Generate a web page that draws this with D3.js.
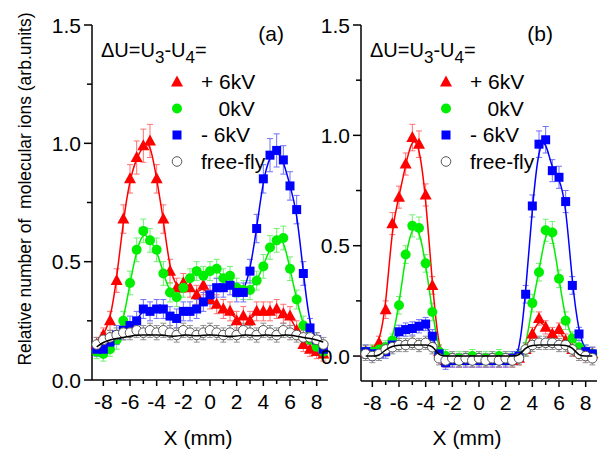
<!DOCTYPE html>
<html>
<head>
<meta charset="utf-8">
<script src="https://cdn.jsdelivr.net/npm/d3@7"></script>
<style>
  body { margin: 0; background: #fff; }
  svg { font-family: "Liberation Sans", Arial, sans-serif; }
</style>
</head>
<body>
<div id="main_div"></div>
<script>
const xPos = [-8.5,-8,-7.5,-7,-6.5,-6,-5.5,-5,-4.5,-4,-3.5,-3,-2.5,-2,-1.5,-1,-0.5,0,0.5,1,1.5,2,2.5,3,3.5,4,4.5,5,5.5,6,6.5,7,7.5,8,8.5];

// panel (a)
const redA   = [0.15,0.19,0.25,0.42,0.68,0.85,0.94,0.99,1.01,0.85,0.68,0.46,0.39,0.41,0.39,0.36,0.40,0.34,0.32,0.30,0.29,0.25,0.27,0.25,0.29,0.29,0.29,0.30,0.28,0.27,0.21,0.15,0.13,0.12,0.11];
const greenA = [0.12,0.11,0.13,0.17,0.25,0.41,0.55,0.63,0.59,0.55,0.45,0.37,0.35,0.39,0.43,0.46,0.44,0.46,0.47,0.43,0.44,0.39,0.38,0.38,0.42,0.48,0.56,0.59,0.60,0.47,0.34,0.23,0.17,0.14,0.12];
const blueA  = [0.13,0.13,0.16,0.19,0.21,0.23,0.25,0.30,0.29,0.30,0.30,0.27,0.26,0.29,0.29,0.30,0.33,0.36,0.39,0.39,0.40,0.37,0.37,0.46,0.64,0.85,0.95,0.97,0.93,0.82,0.72,0.45,0.22,0.17,0.13];
const freeA  = [0.15,0.17,0.18,0.19,0.20,0.20,0.21,0.20,0.21,0.20,0.21,0.20,0.19,0.21,0.20,0.19,0.20,0.21,0.20,0.19,0.20,0.19,0.21,0.20,0.19,0.21,0.20,0.19,0.21,0.20,0.19,0.18,0.18,0.17,0.15];
const fitA   = [0.14,0.16,0.17,0.175,0.18,0.185,0.19,0.19,0.19,0.19,0.19,0.185,0.185,0.19,0.19,0.185,0.19,0.19,0.19,0.185,0.185,0.185,0.19,0.19,0.185,0.19,0.19,0.185,0.19,0.19,0.185,0.18,0.175,0.17,0.16];
const errRedA   = [0.03,0.03,0.04,0.05,0.06,0.06,0.07,0.07,0.07,0.06,0.06,0.05,0.04,0.04,0.04,0.04,0.04,0.04,0.04,0.04,0.04,0.04,0.04,0.04,0.04,0.04,0.04,0.04,0.04,0.04,0.04,0.03,0.03,0.03,0.03];
const errGreenA = [0.03,0.03,0.03,0.04,0.04,0.05,0.05,0.05,0.05,0.05,0.05,0.04,0.04,0.04,0.04,0.04,0.04,0.04,0.04,0.04,0.04,0.04,0.04,0.04,0.04,0.05,0.05,0.05,0.05,0.05,0.04,0.04,0.03,0.03,0.03];
const errBlueA  = [0.03,0.03,0.03,0.04,0.04,0.04,0.04,0.04,0.04,0.04,0.04,0.04,0.04,0.04,0.04,0.04,0.04,0.04,0.04,0.04,0.04,0.04,0.04,0.05,0.06,0.06,0.07,0.07,0.06,0.06,0.06,0.05,0.04,0.03,0.03];
const errFreeA  = [0.03,0.03,0.03,0.03,0.03,0.03,0.03,0.03,0.03,0.03,0.03,0.03,0.03,0.03,0.03,0.03,0.03,0.03,0.03,0.03,0.03,0.03,0.03,0.03,0.03,0.03,0.03,0.03,0.03,0.03,0.03,0.03,0.03,0.03,0.03];

// panel (b)
const redB   = [0.02,0.02,0.06,0.21,0.60,0.72,0.87,0.99,0.96,0.73,0.32,0.02,-0.02,-0.02,-0.02,-0.02,-0.02,-0.02,-0.02,-0.02,-0.02,-0.02,-0.02,-0.01,0.03,0.10,0.17,0.13,0.10,0.12,0.07,0.03,0.02,0.01,0.01];
const greenB = [0.02,0.02,0.03,0.04,0.07,0.23,0.46,0.59,0.58,0.42,0.20,0.02,0.00,-0.01,-0.01,-0.01,0.00,-0.01,-0.01,-0.01,0.00,-0.01,-0.01,0.00,0.03,0.24,0.38,0.57,0.56,0.35,0.16,0.08,0.04,0.02,0.01];
const blueB  = [0.02,0.01,0.01,0.02,0.05,0.11,0.12,0.125,0.135,0.145,0.09,0.01,-0.03,-0.02,-0.02,-0.02,-0.02,-0.02,-0.02,-0.02,-0.02,-0.02,-0.01,0.00,0.28,0.68,0.96,0.98,0.84,0.81,0.70,0.32,0.10,0.02,0.01];
const freeB  = [0.01,0.00,0.01,0.03,0.04,0.05,0.05,0.06,0.05,0.06,0.04,-0.01,-0.02,-0.01,-0.02,-0.01,-0.02,-0.01,-0.02,-0.01,-0.02,-0.01,-0.02,-0.01,0.03,0.05,0.06,0.06,0.06,0.05,0.05,0.03,0.01,0.00,-0.01];
const fitB   = [0.00,0.00,0.00,0.03,0.045,0.05,0.05,0.05,0.05,0.05,0.05,0.00,0.00,0.00,0.00,0.00,0.00,0.00,0.00,0.00,0.00,0.00,0.00,0.00,0.04,0.05,0.05,0.05,0.05,0.05,0.05,0.04,0.00,0.00,0.00];
const errRedB   = [0.03,0.03,0.03,0.04,0.05,0.05,0.05,0.06,0.06,0.05,0.04,0.03,0.03,0.03,0.03,0.03,0.03,0.03,0.03,0.03,0.03,0.03,0.03,0.03,0.03,0.03,0.03,0.03,0.03,0.03,0.03,0.03,0.03,0.03,0.03];
const errGreenB = [0.03,0.03,0.03,0.03,0.03,0.04,0.04,0.05,0.05,0.04,0.04,0.03,0.03,0.03,0.03,0.03,0.03,0.03,0.03,0.03,0.03,0.03,0.03,0.03,0.03,0.04,0.04,0.05,0.05,0.04,0.04,0.03,0.03,0.03,0.03];
const errBlueB  = [0.03,0.03,0.03,0.03,0.03,0.03,0.03,0.03,0.03,0.03,0.03,0.03,0.03,0.03,0.03,0.03,0.03,0.03,0.03,0.03,0.03,0.03,0.03,0.03,0.04,0.05,0.06,0.06,0.05,0.05,0.05,0.04,0.03,0.03,0.03];
const errFreeB  = [0.03,0.03,0.03,0.03,0.03,0.03,0.03,0.03,0.03,0.03,0.03,0.03,0.03,0.03,0.03,0.03,0.03,0.03,0.03,0.03,0.03,0.03,0.03,0.03,0.03,0.03,0.03,0.03,0.03,0.03,0.03,0.03,0.03,0.03,0.03];

const legendLabels = ["+ 6kV", "   0kV", "- 6kV", "free-fly"];
const xTicks = [-8, -6, -4, -2, 0, 2, 4, 6, 8];
const yTicks = [0, 0.5, 1.0, 1.5];

const W = 602, H = 454;
const FONT = 21;

const svg = d3.select("#main_div").append("svg")
    .attr("width", W)
    .attr("height", H);

function draw_panel(p) {
    const x = d3.scaleLinear().domain([-8.85, 8.85]).range([p.left, p.left + 236]);
    const y = d3.scaleLinear().domain(p.ydom).range([p.bottom, 25]);
    const g = svg.append("g");

    // axes
    const xAxis = g.append("g").attr("transform", `translate(0,${p.bottom})`);
    xAxis.append("line").attr("x1", p.left).attr("x2", p.left + 236)
        .attr("stroke", "black").attr("stroke-width", 1.5);
    d3.range(-8, 9, 1).forEach(t => {
        xAxis.append("line").attr("x1", x(t)).attr("x2", x(t)).attr("y1", 0)
            .attr("y2", t % 2 === 0 ? 6 : 4).attr("stroke", "black").attr("stroke-width", 1.5);
    });
    xTicks.forEach(t => {
        xAxis.append("text").attr("x", x(t)).attr("y", 29)
            .attr("text-anchor", "middle").attr("font-size", FONT)
            .text(t);
    });

    const yAxis = g.append("g").attr("transform", `translate(${p.left},0)`);
    yAxis.append("line").attr("y1", y(p.ydom[0])).attr("y2", 25)
        .attr("stroke", "black").attr("stroke-width", 1.5);
    d3.range(0, 1.51, 0.25).forEach(t => {
        const major = Math.abs(t * 2 - Math.round(t * 2)) < 1e-6;
        yAxis.append("line").attr("y1", y(t)).attr("y2", y(t)).attr("x1", 0)
            .attr("x2", major ? -8 : -5).attr("stroke", "black").attr("stroke-width", 1.5);
    });
    yTicks.forEach(t => {
        yAxis.append("text").attr("x", -11).attr("y", y(t)).attr("dy", "0.36em")
            .attr("text-anchor", "end").attr("font-size", FONT)
            .text(d3.format(".1f")(t));
    });

    g.append("text").attr("x", p.left + 106).attr("y", 445)
        .attr("text-anchor", "middle").attr("font-size", FONT)
        .text("X (mm)");

    // data
    const series = p.series;
    series.forEach(s => {
        const eb = g.append("g").attr("stroke", s.errColor).attr("stroke-width", 1);
        xPos.forEach((xv, i) => {
            const top = y(s.values[i] + s.err[i]), bot = y(s.values[i] - s.err[i]);
            eb.append("line").attr("x1", x(xv)).attr("x2", x(xv)).attr("y1", top).attr("y2", bot);
            eb.append("line").attr("x1", x(xv) - 3).attr("x2", x(xv) + 3).attr("y1", top).attr("y2", top);
            eb.append("line").attr("x1", x(xv) - 3).attr("x2", x(xv) + 3).attr("y1", bot).attr("y2", bot);
        });
    });

    const line = d3.line()
        .x((d, i) => x(xPos[i]))
        .y(d => y(d))
        .curve(d3.curveBasis);

    series.forEach(s => {
        if (s.line) {
            g.append("path").datum(s.values)
                .attr("fill", "none").attr("stroke", s.color).attr("stroke-width", 1.5)
                .attr("d", line);
        }
    });

    series.forEach(s => {
        const pts = xPos.map((xv, i) => [x(xv), y(s.values[i])]);
        draw_markers(g, pts, s.shape, s.color);
    });

    g.append("path").datum(p.fit)
        .attr("fill", "none").attr("stroke", "black").attr("stroke-width", 1.5)
        .attr("d", line);

    // legend
    const lg = g.append("g");
    const tx = lg.append("text").attr("x", p.left + 9).attr("y", 57).attr("font-size", 20);
    tx.append("tspan").text("\u0394U=U");
    tx.append("tspan").attr("dy", 6).attr("font-size", 17).text("3");
    tx.append("tspan").attr("dy", -6).text("-U");
    tx.append("tspan").attr("dy", 6).attr("font-size", 17).text("4");
    tx.append("tspan").attr("dy", -6).text("=");

    series.forEach((s, i) => {
        const ly = 82 + i * 26.5;
        draw_markers(lg, [[p.left + 85, ly]], s.shape, s.color);
        lg.append("text").attr("x", p.left + 109).attr("y", ly + 7)
            .attr("font-size", FONT).style("white-space", "pre")
            .text(legendLabels[i]);
    });

    g.append("text").attr("x", p.left + 192).attr("y", 41)
        .attr("text-anchor", "end").attr("font-size", FONT)
        .text(p.label);
}

function draw_markers(g, pts, shape, color) {
    pts.forEach(pt => {
        if (shape === "triangle") {
            g.append("path").attr("transform", `translate(${pt[0]},${pt[1]})`)
                .attr("d", "M0,-6.5L6,4.5L-6,4.5Z").attr("fill", color);
        } else if (shape === "square") {
            g.append("rect").attr("x", pt[0] - 4.5).attr("y", pt[1] - 4.5)
                .attr("width", 9).attr("height", 9).attr("fill", color);
        } else if (shape === "circle") {
            g.append("circle").attr("cx", pt[0]).attr("cy", pt[1]).attr("r", 5)
                .attr("fill", color);
        } else {
            g.append("circle").attr("cx", pt[0]).attr("cy", pt[1]).attr("r", 4.8)
                .attr("fill", "white").attr("stroke", color).attr("stroke-width", 1);
        }
    });
}

const panels = [
    {
        label: "(a)", left: 92, bottom: 380, ydom: [0, 1.5], fit: fitA,
        series: [
            { values: redA, err: errRedA, color: "#ff0000", errColor: "#ff7070", shape: "triangle", line: true },
            { values: greenA, err: errGreenA, color: "#00ee00", errColor: "#70f070", shape: "circle", line: true },
            { values: blueA, err: errBlueA, color: "#0000ff", errColor: "#7070ff", shape: "square", line: true },
            { values: freeA, err: errFreeA, color: "#555555", errColor: "#909090", shape: "open", line: false }
        ]
    },
    {
        label: "(b)", left: 361, bottom: 381, ydom: [-0.113, 1.5], fit: fitB,
        series: [
            { values: redB, err: errRedB, color: "#ff0000", errColor: "#ff7070", shape: "triangle", line: true },
            { values: greenB, err: errGreenB, color: "#00ee00", errColor: "#70f070", shape: "circle", line: true },
            { values: blueB, err: errBlueB, color: "#0000ff", errColor: "#7070ff", shape: "square", line: true },
            { values: freeB, err: errFreeB, color: "#555555", errColor: "#909090", shape: "open", line: false }
        ]
    }
];

panels.forEach(draw_panel);

svg.append("text")
    .attr("transform", "translate(31,189) rotate(-90)")
    .attr("text-anchor", "middle").attr("font-size", 17.5)
    .style("white-space", "pre")
    .text("Relative number of  molecular ions (arb.units)");
</script>
</body>
</html>
